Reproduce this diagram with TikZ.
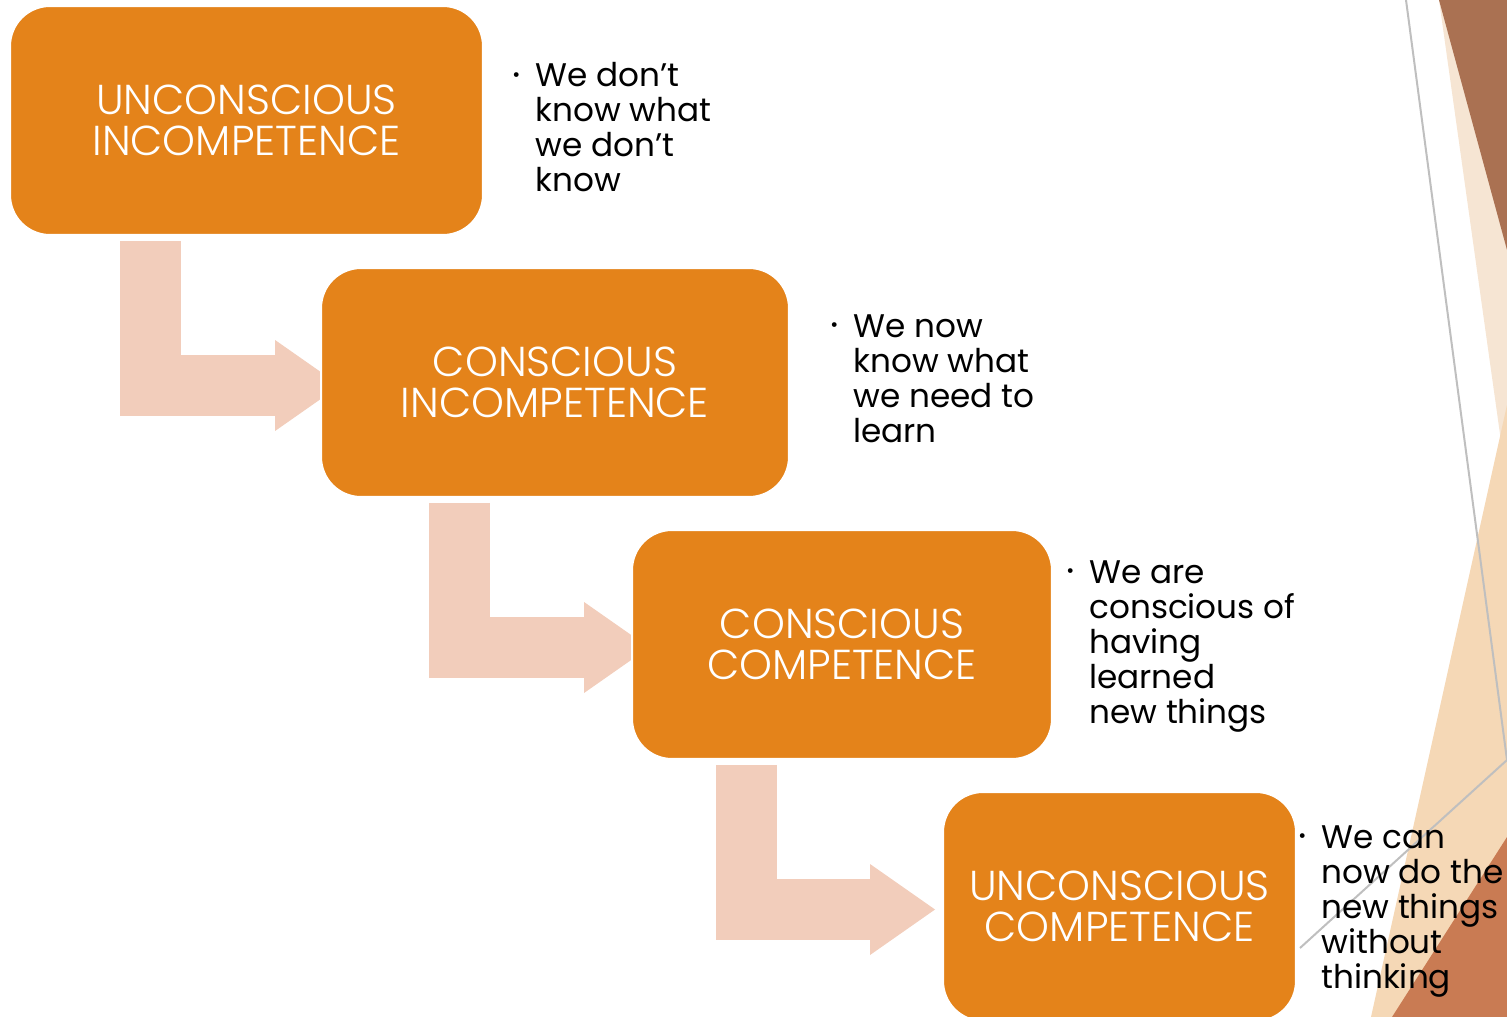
\documentclass[tikz,border=0pt]{standalone}
\usepackage{fontspec}
\setmainfont{Poppins}
\newfontfamily\thinfont{Poppins}[UprightFont=* Light]
\usetikzlibrary{arrows.meta}
\usetikzlibrary{calc}
\usetikzlibrary{backgrounds}
\definecolor{morange}{HTML}{E4831A}
\definecolor{mpeach}{HTML}{F2CDBB}
\definecolor{mbrown}{HTML}{AA7152}
\definecolor{mcream}{HTML}{F6E5D3}
\definecolor{msand}{HTML}{F5D8B6}
\definecolor{mterra}{HTML}{C97B53}
\tikzset{stage/.style = {fill=morange, draw=white, line width=0.04cm, rounded corners=0.8cm,
                         text=white, align=center, font=\thinfont\fontsize{23.8}{23.5}\selectfont}}
\tikzset{note/.style = {anchor=north west, inner sep=0, align=left,
                        font=\fontsize{18.6}{20}\selectfont}}
\tikzset{bent/.style = {draw=mpeach, line width=1.22cm, line join=miter,
                        -{Triangle[length=1.3cm, width=1.82cm, line width=0pt]}}}
\newcommand{\bul}{\llap{\raisebox{3pt}{\fontsize{11}{11}\selectfont\textbullet}\hspace{0.3cm}}}

\begin{document}
\begin{tikzpicture}[x=0.02cm, y=-0.02cm]
    \useasboundingbox (0, 0) rectangle (1507, 1017);
    \clip (0, 0) rectangle (1507, 1017);

    % side decoration
    \fill [mcream] (1439, 0) -- (1507, 0) -- (1507, 484) -- cycle;
    \fill [mbrown] (1439, 0) -- (1507, 0) -- (1507, 250) -- cycle;
    \fill [msand] (1507, 405) -- (1507, 1017) -- (1371, 1017) -- cycle;
    \fill [mterra] (1392, 1017) -- (1507, 837) -- (1507, 1017) -- cycle;
    \draw [black!25, line width=0.04cm] (1406, 0) -- (1507, 760) -- (1300, 948);

    \node [stage, minimum width=9.46cm, minimum height=4.58cm] (b1) at (246.5, 120.5) {UNCONSCIOUS\\INCOMPETENCE};
    \node [stage, minimum width=9.36cm, minimum height=4.58cm] (b2) at (555, 382.5) {CONSCIOUS\\INCOMPETENCE};
    \node [stage, minimum width=8.4cm, minimum height=4.58cm] (b3) at (842, 644.5) {CONSCIOUS\\COMPETENCE};
    \node [stage, minimum width=7.06cm, minimum height=4.58cm] (b4) at (1119.5, 906.5) {UNCONSCIOUS\\COMPETENCE};

    \begin{scope}[on background layer]
      \foreach \a/\b/\dx/\dt in {b1/b2/141.5/20, b2/b3/139.5/18, b3/b4/115.5/-7} {
        \draw [bent] ($(\a.south west) + (\dx, 5)$) |- ($(\b.west) + (\dt, 3)$);
      }
    \end{scope}

    \node [note] (n1) at (535, 62) {\bul We don’t\\know what\\we don’t\\know};
    \node [note] (n2) at (853, 314) {\bul We now\\know what\\we need to\\learn};
    \node [note] (n3) at (1089, 560) {\bul We are\\conscious of\\having\\learned\\new things};
    \node [note] (n4) at (1321, 825) {\bul We can\\now do the\\new things\\without\\thinking};
\end{tikzpicture}
\end{document}
